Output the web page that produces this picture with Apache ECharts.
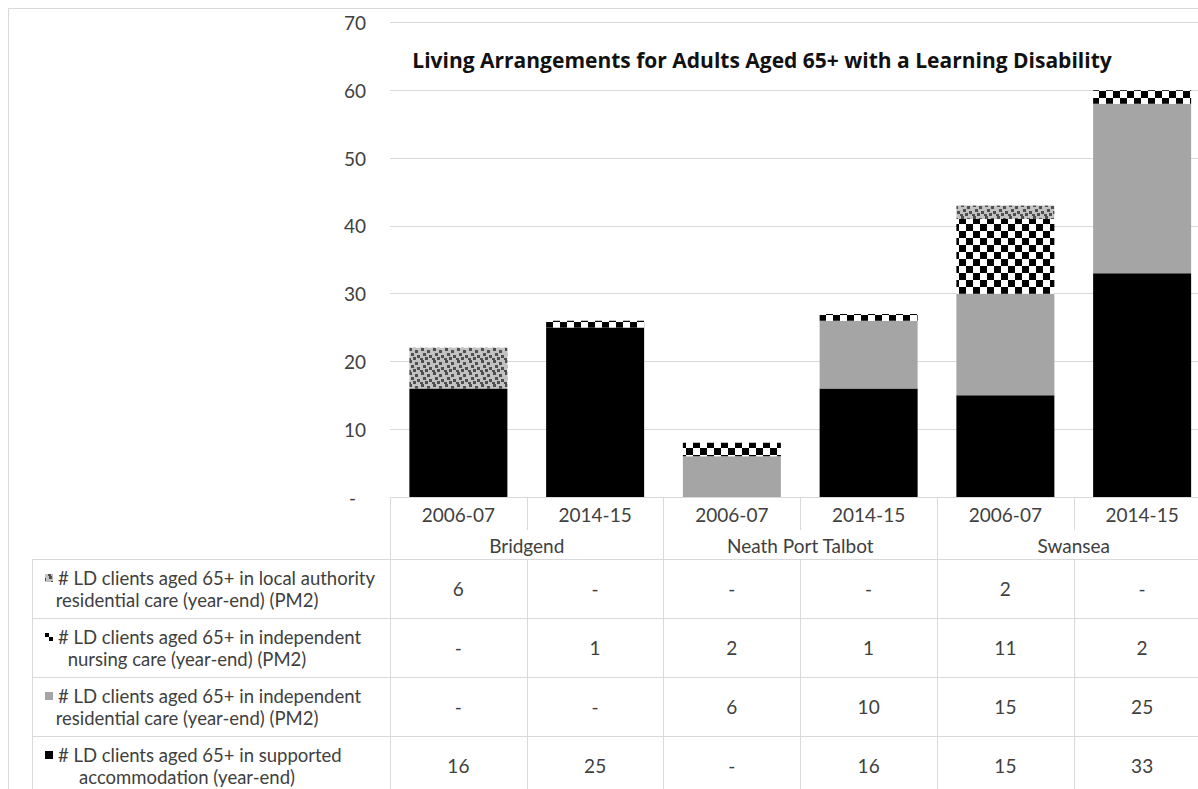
<!DOCTYPE html>
<html>
<head>
<meta charset="utf-8">
<script src="https://cdn.jsdelivr.net/npm/echarts@6/dist/echarts.min.js"></script>
<style>
  html, body { margin: 0; padding: 0; background: #fff; }
  #chart { width: 1198px; height: 789px; }
</style>
</head>
<body>
<div id="chart"></div>
<script>
// ---- data ----
const years = ['2006-07', '2014-15', '2006-07', '2014-15', '2006-07', '2014-15'];
const areas = ['Bridgend', 'Neath Port Talbot', 'Swansea'];

const supportedAccommodation = [16, 25, 0, 16, 15, 33];
const independentResidential = [0, 0, 6, 10, 15, 25];
const independentNursing = [0, 1, 2, 1, 11, 2];
const laResidential = [6, 0, 0, 0, 2, 0];

const nameLa = ['# LD clients aged 65+ in local authority', 'residential care (year-end) (PM2)'];
const nameNursing = ['# LD clients aged 65+ in independent', 'nursing care (year-end) (PM2)'];
const nameResidential = ['# LD clients aged 65+ in independent', 'residential care (year-end) (PM2)'];
const nameSupported = ['# LD clients aged 65+ in supported', 'accommodation (year-end)'];

const chartTitle = 'Living Arrangements for Adults Aged 65+ with a Learning Disability';

// ---- fills ----
function checkerTile() {
  const c = document.createElement('canvas');
  c.width = 14; c.height = 14;
  const g = c.getContext('2d');
  g.fillStyle = '#ffffff'; g.fillRect(0, 0, 14, 14);
  g.fillStyle = '#000000';
  g.fillRect(0, 0, 7, 7);
  g.fillRect(7, 7, 7, 7);
  return c;
}
function speckleTile() {
  const c = document.createElement('canvas');
  c.width = 12; c.height = 12;
  const g = c.getContext('2d');
  g.fillStyle = '#c2c2c2'; g.fillRect(0, 0, 12, 12);
  g.fillStyle = '#4f4f4f';
  [[1, 0], [7, 2], [3, 5], [9, 7], [5, 9], [0, 10]].forEach(function (p) {
    g.fillRect(p[0], p[1], 3, 3);
  });
  return c;
}
const fillChecker = { image: checkerTile(), repeat: 'repeat' };
const fillSpeckle = { image: speckleTile(), repeat: 'repeat' };
const fillGrey = '#a5a5a5';
const fillBlack = '#000000';

// rows of the data table, top to bottom
const tableRows = [
  { name: nameLa, values: laResidential, fill: fillSpeckle },
  { name: nameNursing, values: independentNursing, fill: fillChecker },
  { name: nameResidential, values: independentResidential, fill: fillGrey },
  { name: nameSupported, values: supportedAccommodation, fill: fillBlack }
];

const FONT = 'Lato, "Open Sans", sans-serif';
const TITLE_FONT = '"Open Sans", Lato, sans-serif';
const FS = 19;
const LABEL_FS = 18.5;
const TEXT = '#404040';
const RULE = '#d9d9d9';

const gridLeft = 390, gridTop = 22.5, axisY = 497;
const headerH = 62, rowH = 59;

function fmt(v) { return v === 0 ? '-' : String(v); }

// x axes: years, areas, then one axis per table row
const xAxes = [
  {
    type: 'category', data: years, position: 'bottom', offset: 0,
    axisLine: { show: true, lineStyle: { color: RULE, width: 1 } },
    axisTick: { show: true, length: 33, interval: 0, lineStyle: { color: RULE, width: 1 } },
    axisLabel: { interval: 0, margin: 17, verticalAlign: 'middle', color: TEXT, fontFamily: FONT, fontSize: FS },
    splitLine: { show: false }
  },
  {
    type: 'category', data: areas, position: 'bottom', offset: 0,
    axisLine: { show: false },
    axisTick: { show: true, length: headerH, interval: 0, lineStyle: { color: RULE, width: 1 } },
    axisLabel: { interval: 0, margin: 48, verticalAlign: 'middle', color: TEXT, fontFamily: FONT, fontSize: FS },
    splitLine: { show: false }
  }
];
tableRows.forEach(function (row, i) {
  xAxes.push({
    type: 'category', data: row.values.map(fmt), position: 'bottom',
    offset: headerH + rowH * i,
    axisLine: { show: true, lineStyle: { color: RULE, width: 1 } },
    axisTick: { show: true, length: rowH, interval: 0, lineStyle: { color: RULE, width: 1 } },
    axisLabel: { interval: 0, margin: rowH / 2, verticalAlign: 'middle', color: TEXT, fontFamily: FONT, fontSize: FS },
    splitLine: { show: false }
  });
});

// left-hand column of the data table: series names with their keys
const graphics = [
  { type: 'rect', shape: { x: 8.5, y: 8.5, width: 1400, height: 1000 }, style: { fill: 'none', stroke: RULE, lineWidth: 1 }, silent: true },
  { type: 'text', x: 762, y: 60, style: { text: chartTitle, textAlign: 'center', textVerticalAlign: 'middle', fill: '#111', font: 'bold 21px ' + TITLE_FONT } },
  { type: 'line', shape: { x1: 32.5, y1: axisY + headerH, x2: 32.5, y2: 900 }, style: { stroke: RULE, lineWidth: 1 } }
];
tableRows.forEach(function (row, i) {
  const top = axisY + headerH + rowH * i;
  graphics.push({ type: 'line', shape: { x1: 32, y1: top + 0.5, x2: gridLeft, y2: top + 0.5 }, style: { stroke: RULE, lineWidth: 1 } });
  graphics.push({ type: 'rect', shape: { x: 45, y: top + 15, width: 8, height: 8 }, style: { fill: row.fill } });
  graphics.push({ type: 'text', x: 58, y: top + 19, style: { text: row.name[0], textAlign: 'left', textVerticalAlign: 'middle', fill: TEXT, font: LABEL_FS + 'px ' + FONT } });
  graphics.push({ type: 'text', x: 187, y: top + 41, style: { text: row.name[1], textAlign: 'center', textVerticalAlign: 'middle', fill: TEXT, font: LABEL_FS + 'px ' + FONT } });
});

function barSeries(name, data, fill) {
  return {
    name: name.join(' '), type: 'bar', stack: 'total', xAxisIndex: 0, yAxisIndex: 0,
    data: data, barWidth: 98,
    itemStyle: { color: fill },
    emphasis: { disabled: true }
  };
}

const chart = echarts.init(document.getElementById('chart'), null, { renderer: 'svg' });
chart.setOption({
  animation: false,
  backgroundColor: '#ffffff',
  grid: { left: gridLeft, right: -12.5, top: gridTop, bottom: 789 - axisY, containLabel: false, outerBoundsMode: 'none' },
  xAxis: xAxes,
  yAxis: {
    type: 'value', min: 0, max: 70, interval: 10,
    axisLine: { show: false }, axisTick: { show: false },
    splitLine: { show: true, lineStyle: { color: RULE, width: 1 } },
    axisLabel: {
      margin: 24, color: TEXT, fontFamily: FONT, fontSize: FS,
      formatter: function (v) { return v === 0 ? '{dash|-}' : String(v); },
      rich: { dash: { color: TEXT, fontFamily: FONT, fontSize: FS, padding: [0, 10, 0, 0] } }
    }
  },
  series: [
    barSeries(nameSupported, supportedAccommodation, fillBlack),
    barSeries(nameResidential, independentResidential, fillGrey),
    barSeries(nameNursing, independentNursing, fillChecker),
    barSeries(nameLa, laResidential, fillSpeckle)
  ],
  graphic: graphics
});
</script>
</body>
</html>
